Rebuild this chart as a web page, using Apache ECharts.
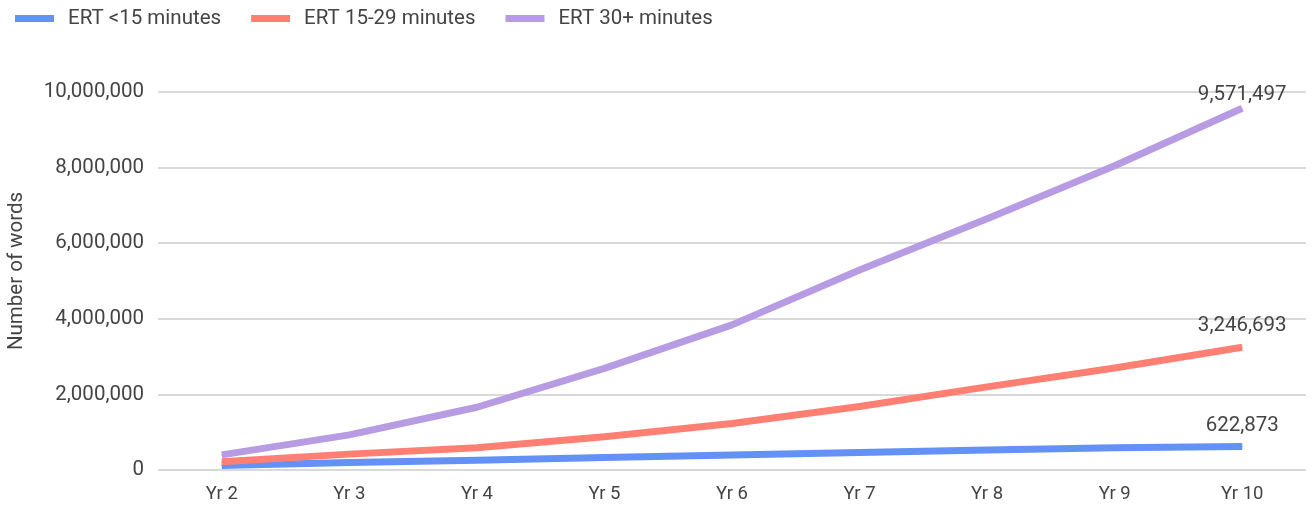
<!DOCTYPE html>
<html>
<head>
<meta charset="utf-8">
<title>Estimated reading time – number of words</title>
<script src="https://cdn.jsdelivr.net/npm/echarts@6/dist/echarts.min.js"></script>
<style>
  html, body { margin: 0; padding: 0; background: #ffffff; }
  #chart { width: 1312px; height: 509px; }
</style>
</head>
<body>
<div id="chart"></div>
<script>
// Years on the x axis
const years = ['Yr 2', 'Yr 3', 'Yr 4', 'Yr 5', 'Yr 6', 'Yr 7', 'Yr 8', 'Yr 9', 'Yr 10'];

// Number of words per reading-time band
const ertUnder15 = [120000, 200000, 260000, 330000, 400000, 460000, 530000, 590000, 622873];
const ert15to29 = [220000, 420000, 590000, 880000, 1230000, 1680000, 2200000, 2700000, 3246693];
const ert30plus = [400000, 930000, 1660000, 2690000, 3840000, 5290000, 6650000, 8050000, 9571497];

const seriesNames = ['ERT <15 minutes', 'ERT 15-29 minutes', 'ERT 30+ minutes'];
const seriesColors = ['#6391f5', '#ff8073', '#b79ce3'];
const axisTitle = 'Number of words';

const fmt = v => Number(v).toLocaleString('en-US');
const FONT = 'Roboto, "Noto Sans", sans-serif';
const TEXT_COLOR = '#444444';

// Only the final point of each line carries a value label
function withEndLabel(values) {
  return values.map((v, i) => i === values.length - 1
    ? { value: v, label: { show: true } }
    : v);
}

function lineSeries(name, values, color, labelDistance) {
  return {
    name: name,
    type: 'line',
    data: withEndLabel(values),
    symbol: 'circle',
    symbolSize: 1,
    showSymbol: true,
    itemStyle: { color: color },
    color: color,
    lineStyle: { width: 7, color: color, cap: 'butt', join: 'round' },
    label: {
      show: false,
      position: 'top',
      distance: labelDistance,
      color: TEXT_COLOR,
      fontFamily: FONT,
      fontSize: 20.5,
      formatter: p => fmt(p.value)
    },
    emphasis: { disabled: true }
  };
}

const chart = echarts.init(document.getElementById('chart'), null, { renderer: 'canvas' });

chart.setOption({
  animation: false,
  backgroundColor: '#ffffff',
  textStyle: { fontFamily: FONT },
  legend: {
    left: 10,
    top: 3,
    icon: 'rect',
    itemWidth: 39,
    itemHeight: 7,
    itemGap: 30,
    textStyle: { fontFamily: FONT, fontSize: 20.5, color: TEXT_COLOR, padding: [0, 0, 0, 9] },
    data: seriesNames
  },
  grid: { left: 158, right: 6, top: 92, bottom: 39, containLabel: false },
  xAxis: {
    type: 'category',
    data: years,
    boundaryGap: true,
    axisLine: { show: false },
    axisTick: { show: false },
    axisLabel: { color: TEXT_COLOR, fontFamily: FONT, fontSize: 18.5, margin: 15 },
    splitLine: { show: false }
  },
  yAxis: {
    type: 'value',
    min: 0,
    max: 10000000,
    interval: 2000000,
    axisLine: { show: false },
    axisTick: { show: false },
    axisLabel: { color: TEXT_COLOR, fontFamily: FONT, fontSize: 20.5, margin: 14, formatter: v => fmt(v) },
    splitLine: { show: true, lineStyle: { color: '#d9d9d9', width: 2 } }
  },
  // Vertical title beside the value axis
  graphic: [{
    type: 'text',
    x: 17,
    y: 271,
    rotation: Math.PI / 2,
    style: {
      text: axisTitle,
      fill: TEXT_COLOR,
      font: '20.5px ' + FONT,
      align: 'center',
      verticalAlign: 'middle'
    }
  }],
  series: [
    lineSeries(seriesNames[0], ertUnder15, seriesColors[0], 10),
    lineSeries(seriesNames[1], ert15to29, seriesColors[1], 10),
    lineSeries(seriesNames[2], ert30plus, seriesColors[2], 2)
  ]
});
</script>
</body>
</html>
